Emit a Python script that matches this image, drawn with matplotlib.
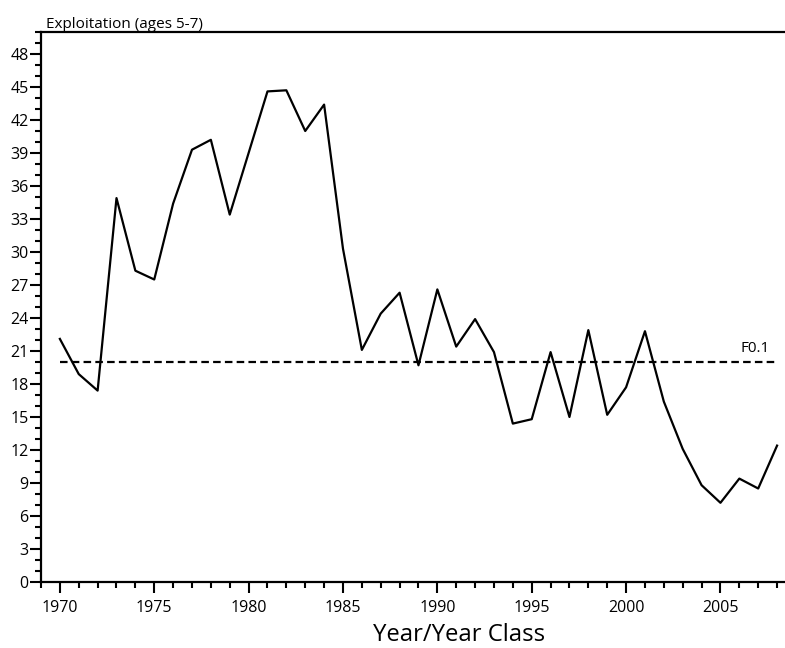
import numpy as np
from matplotlib import pyplot as plt
from matplotlib.ticker import MultipleLocator

plt.rcParams['font.family'] = ['Open Sans', 'DejaVu Sans']

# exploitation rate (ages 5-7) by year
years = list(range(1970, 2009))
exploitation = [22.1, 18.9, 17.4, 34.9, 28.3, 27.5, 34.4, 39.3, 40.2, 33.4,
                39.0, 44.6, 44.7, 41.0, 43.4, 30.3, 21.1, 24.4, 26.3, 19.7,
                26.6, 21.4, 23.9, 20.9, 14.4, 14.8, 20.9, 15.0, 22.9, 15.2,
                17.7, 22.8, 16.4, 12.1, 8.8, 7.2, 9.4, 8.5, 12.4]
f01 = 20.0
f01_label = "F0.1"

fig = plt.figure(figsize=(7.85, 6.48), dpi=100)
ax = fig.add_axes([41/785, 66/648, 744/785, 550/648])

ax.plot(years, exploitation, color='black', lw=1.6)
ax.plot([years[0], years[-1]], [f01, f01], color='black', lw=1.6,
        dashes=(3.4, 1.9))
ax.text(years[-1] - 0.4, f01 + 0.55, f01_label, ha='right', va='bottom',
        fontsize=11)

ax.set_xlim(1969, 2008.42)
ax.set_ylim(0, 50)
ax.set_yticks(np.arange(0, 49, 3))
ax.yaxis.set_minor_locator(MultipleLocator(1))
ax.set_xticks(np.arange(1970, 2006, 5))
ax.xaxis.set_minor_locator(MultipleLocator(1))

ax.spines['right'].set_visible(False)
for s in ['left', 'bottom', 'top']:
    ax.spines[s].set_linewidth(1.6)

ax.tick_params(axis='both', which='major', length=8, width=1.5,
               labelsize=11.5, direction='out')
ax.tick_params(axis='both', which='minor', length=4.5, width=1.5,
               direction='out')
ax.tick_params(axis='y', pad=1)
ax.tick_params(axis='x', pad=5)

fig.text(46/785, 1 - 28/648, "Exploitation (ages 5-7)", ha='left',
         va='baseline', fontsize=11)
fig.text(459/785, 1 - 641/648, "Year/Year Class", ha='center',
         va='baseline', fontsize=17.2)

fig.savefig('out.png', dpi=100)
